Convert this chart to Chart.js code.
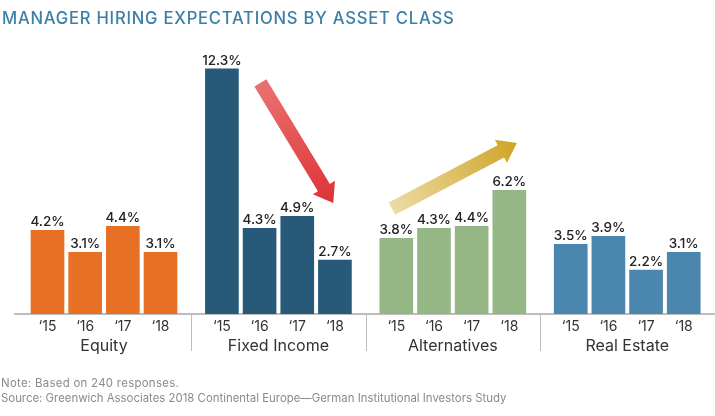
<!DOCTYPE html>
<html>
<head>
<meta charset="utf-8">
<title>Manager Hiring Expectations by Asset Class</title>
<script src="https://cdn.jsdelivr.net/npm/chart.js@4"></script>
<style>
  html, body { margin: 0; padding: 0; background: #fff; }
  #wrap { position: relative; width: 715px; height: 416px; overflow: hidden; font-family: Inter, sans-serif; }
  canvas { position: absolute; left: 0; top: 0; }
  h1 { position: absolute; left: 2px; top: 8px; margin: 0; font-size: 16.6px; font-weight: 500; letter-spacing: 0.78px; color: #3b7fa6; white-space: nowrap; }
  .note { position: absolute; left: 1px; margin: 0; font-size: 11.4px; color: #8a8a8a; white-space: nowrap; }
</style>
</head>
<body>
<div id="wrap">
  <canvas id="chart" width="715" height="416"></canvas>
  <h1>MANAGER HIRING EXPECTATIONS BY ASSET CLASS</h1>
  <p class="note" style="top:376px;letter-spacing:0.3px">Note: Based on 240 responses.</p>
  <p class="note" style="top:391px">Source: Greenwich Associates 2018 Continental Europe—German Institutional Investors Study</p>
</div>
<script>
const years = ['‘15', '‘16', '‘17', '‘18'];
const groups = ['Equity', 'Fixed Income', 'Alternatives', 'Real Estate'];
const equity = [4.2, 3.1, 4.4, 3.1];
const fixedIncome = [12.3, 4.3, 4.9, 2.7];
const alternatives = [3.8, 4.3, 4.4, 6.2];
const realEstate = [3.5, 3.9, 2.2, 3.1];
const colors = ['#e87025', '#265a78', '#94b785', '#4a86ad'];

// one group is four bar slots plus a gap
const groupStep = 4.63;
const slot = (g, i) => g * groupStep + i;

const seriesList = [equity, fixedIncome, alternatives, realEstate];
const datasets = seriesList.map((values, g) => ({
    label: groups[g],
    data: values.map((v, i) => ({ x: slot(g, i), y: v })),
    backgroundColor: colors[g],
    barThickness: 33,
    grouped: false
}));

const axisLine = '#bdbdbd';

// value labels on top of the bars
const valueLabels = {
    id: 'valueLabels',
    afterDatasetsDraw(chart) {
        const ctx = chart.ctx;
        ctx.save();
        ctx.font = '500 13.5px Inter, sans-serif';
        ctx.fillStyle = '#222';
        ctx.textAlign = 'center';
        ctx.textBaseline = 'alphabetic';
        chart.data.datasets.forEach((ds, d) => {
            chart.getDatasetMeta(d).data.forEach((bar, i) => {
                ctx.fillText(ds.data[i].y.toFixed(1) + '%', bar.x, bar.y - 4);
            });
        });
        ctx.restore();
    }
};

// group names and the separators under the axis
const groupAxis = {
    id: 'groupAxis',
    afterDraw(chart) {
        const ctx = chart.ctx, x = chart.scales.x, base = chart.scales.y.getPixelForValue(0);
        ctx.save();
        ctx.font = '400 16px Inter, sans-serif';
        ctx.fillStyle = '#333';
        ctx.textAlign = 'center';
        ctx.textBaseline = 'alphabetic';
        groups.forEach((name, g) => {
            ctx.fillText(name, x.getPixelForValue(slot(g, 1.5)), base + 37);
            if (g > 0) {
                const sx = Math.round(x.getPixelForValue(slot(g, -0.81))) + 0.5;
                ctx.strokeStyle = axisLine;
                ctx.lineWidth = 1;
                ctx.beginPath();
                ctx.moveTo(sx, base);
                ctx.lineTo(sx, base + 37);
                ctx.stroke();
            }
        });
        ctx.restore();
    }
};

// trend arrows, placed in data units
const arrows = [
    { from: [slot(1, 1.02), 11.6], to: [slot(1, 2.955), 5.57], start: '#ea7270', end: '#dd3336' },
    { from: [slot(2, -0.117), 5.29], to: [slot(2, 3.2), 8.58], start: '#ecdba6', end: '#cfa526' }
];
const trendArrows = {
    id: 'trendArrows',
    afterDatasetsDraw(chart) {
        const ctx = chart.ctx, xs = chart.scales.x, ys = chart.scales.y;
        arrows.forEach(a => {
            const x0 = xs.getPixelForValue(a.from[0]), y0 = ys.getPixelForValue(a.from[1]);
            const x1 = xs.getPixelForValue(a.to[0]), y1 = ys.getPixelForValue(a.to[1]);
            const len = Math.hypot(x1 - x0, y1 - y0);
            ctx.save();
            ctx.translate(x0, y0);
            ctx.rotate(Math.atan2(y1 - y0, x1 - x0));
            const grad = ctx.createLinearGradient(0, 0, len, 0);
            grad.addColorStop(0, a.start);
            grad.addColorStop(1, a.end);
            ctx.fillStyle = grad;
            ctx.beginPath();
            ctx.moveTo(0, -7);
            ctx.lineTo(len - 18, -7);
            ctx.lineTo(len - 18, -13);
            ctx.lineTo(len, 0);
            ctx.lineTo(len - 18, 13);
            ctx.lineTo(len - 18, 7);
            ctx.lineTo(0, 7);
            ctx.closePath();
            ctx.fill();
            ctx.restore();
        });
    }
};

new Chart(document.getElementById('chart'), {
    type: 'bar',
    data: { datasets },
    plugins: [valueLabels, groupAxis, trendArrows],
    options: {
        responsive: false,
        animation: false,
        layout: { padding: { left: 15, top: 35, right: 0, bottom: 0 } },
        plugins: { legend: { display: false }, tooltip: { enabled: false } },
        scales: {
            x: {
                type: 'linear',
                offset: false,
                min: -0.863,
                max: 17.72,
                grid: { display: false, drawTicks: false },
                border: { color: axisLine, width: 2 },
                afterBuildTicks(scale) {
                    const ticks = [];
                    groups.forEach((_, g) => years.forEach((_, i) => ticks.push({ value: slot(g, i) })));
                    scale.ticks = ticks;
                },
                afterFit(scale) { scale.height = 102; },
                ticks: {
                    autoSkip: false,
                    maxRotation: 0,
                    padding: 4,
                    color: '#333',
                    font: { family: 'Inter, sans-serif', size: 14 },
                    callback: (value, index) => years[index % 4]
                }
            },
            y: {
                display: false,
                min: 0,
                max: 14
            }
        }
    }
});
</script>
</body>
</html>
